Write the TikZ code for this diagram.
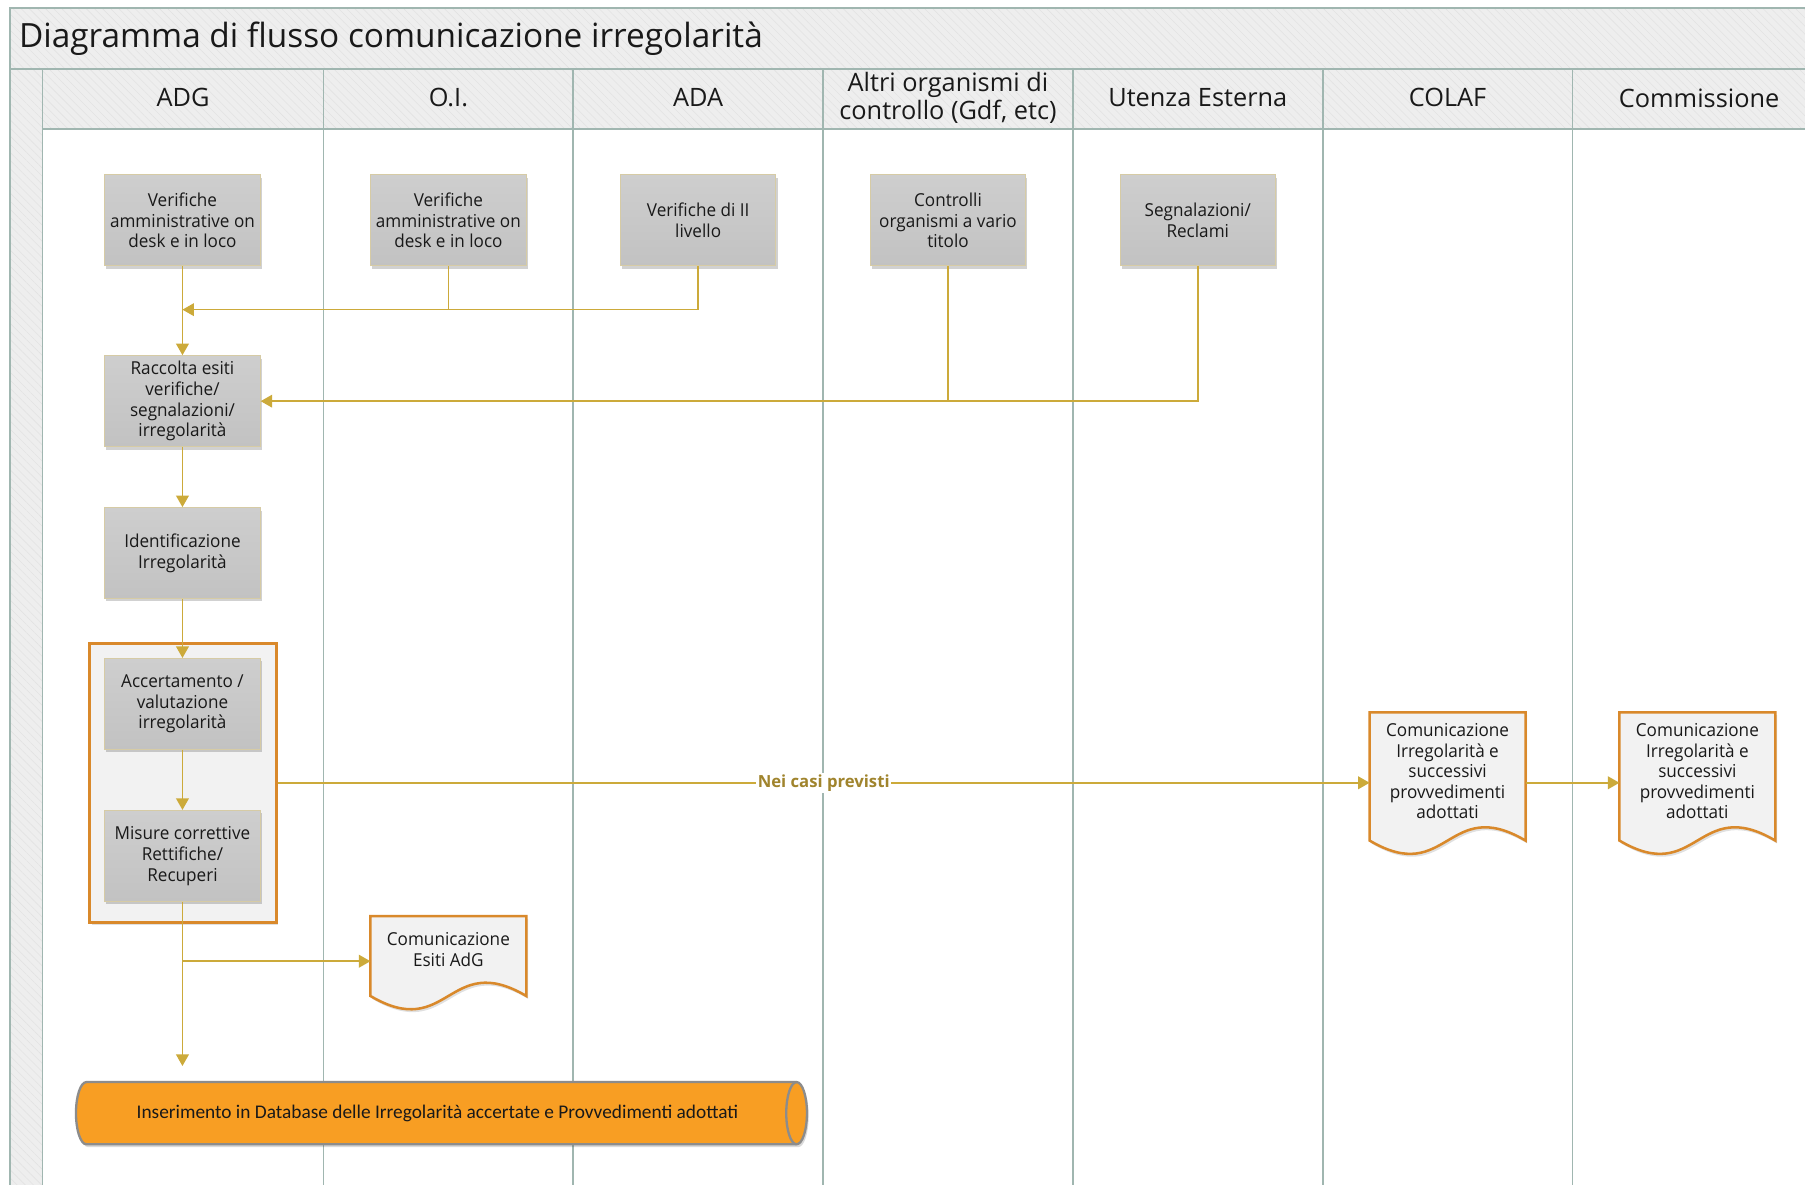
\documentclass[tikz,border=0pt]{standalone}
\usepackage{fontspec}
\setmainfont{Open Sans}
\newfontfamily\boxfont[FakeStretch=0.96]{Open Sans}
\newfontfamily\dbfont{Carlito}
\usetikzlibrary{arrows.meta,shadows,patterns.meta,calc}

% palette
\definecolor{framec}{RGB}{160,182,176}
\definecolor{headfill}{RGB}{238,238,238}
\definecolor{hatchc}{RGB}{226,226,226}
\definecolor{boxtop}{RGB}{206,206,206}
\definecolor{boxbot}{RGB}{194,194,194}
\definecolor{boxline}{RGB}{214,203,165}
\definecolor{flowc}{RGB}{204,170,58}
\definecolor{labelc}{RGB}{160,132,45}
\definecolor{orangec}{RGB}{217,137,43}
\definecolor{docfill}{RGB}{242,242,242}
\definecolor{dbfill}{RGB}{248,158,35}
\definecolor{dbline}{RGB}{140,140,140}

\tikzset{
  band/.style={fill=headfill, draw=framec, line width=1.5pt},
  hatch/.style={pattern={Lines[angle=-45,distance=5pt,line width=0.5pt]}, pattern color=hatchc},
  lanehead/.style={font=\fontsize{22}{26}\selectfont, align=center, text=black!90},
  procbox/.style={draw=boxline, line width=0.9pt, top color=boxtop, bottom color=boxbot,
    minimum width=135pt, minimum height=79pt, align=center, inner sep=2pt,
    font=\boxfont\fontsize{15.5}{18}\selectfont, text=black!90,
    drop shadow={shadow xshift=1.5pt, shadow yshift=-2.5pt, fill=black, opacity=0.18}},
  docbox/.style={minimum width=135pt, inner sep=0pt},
  doctext/.style={align=center, font=\boxfont\fontsize{15.5}{17.7}\selectfont, text=black!90},
  docline/.style={draw=orangec, fill=docfill, line width=2.2pt, line join=miter},
  wire/.style={draw=flowc, line width=1.4pt},
  flow/.style={wire, -{Triangle[width=11pt,length=10pt]}},
}

\begin{document}
\begin{tikzpicture}[x=1pt, y=-1pt]
\clip (0,0) rectangle (1568,1028.6);
\fill[white] (0,0) rectangle (1568,1028.6);

% ---- pool frame: title band, left gutter, lane headers ----
\path[band] (9,7) rectangle (1600,60);
\path[hatch] (9,7) rectangle (1600,60);
\path[band] (9,60) rectangle (37,1100);
\path[hatch] (9,60) rectangle (37,1100);
\path[band] (37,60) rectangle (1600,112);
\path[hatch] (37,60) rectangle (1600,112);
\draw[framec, line width=1.5pt] (9,7) rectangle (1600,60);
\draw[framec, line width=1.5pt] (9,60) rectangle (37,1100);
\draw[framec, line width=1.5pt] (37,112) -- (1600,112);
\foreach \xx in {281,498,715,932,1149,1366}
  \draw[framec, line width=1.5pt] (\xx,60) -- (\xx,1100);

\node[anchor=west, font=\fontsize{29}{34}\selectfont, text=black!90] (title) at (13,34)
  {Diagramma di flusso comunicazione irregolarità};

\node[lanehead] (hADG) at (159,85) {ADG};
\node[lanehead] (hOI)  at (389.5,85) {O.I.};
\node[lanehead] (hADA) at (606.5,85) {ADA};
\node[lanehead, font=\fontsize{22}{25}\selectfont] (hALT) at (823.5,85) {Altri organismi di\\controllo (Gdf, etc)};
\node[lanehead] (hUT)  at (1040.5,85) {Utenza Esterna};
\node[lanehead] (hCOL) at (1257.5,85) {COLAF};
\node[lanehead] (hCOM) at (1476,85) {Commissione};

% ---- group frame around assessment and corrective measures ----
\node[draw=orangec, fill=docfill, line width=2.5pt, minimum width=162pt, minimum height=242pt,
  drop shadow={shadow xshift=1.5pt, shadow yshift=-2.5pt, fill=black, opacity=0.12}]
  (grp) at (159,680) {};

% ---- process steps ----
\node[procbox] (ver1) at (158.5,191.5) {Verifiche\\amministrative on\\desk e in loco};
\node[procbox] (ver2) at (389.5,191.5) {Verifiche\\amministrative on\\desk e in loco};
\node[procbox] (ver3) at (606.5,191.5) {Verifiche di II\\livello};
\node[procbox] (ctrl) at (823.5,191.5) {Controlli\\organismi a vario\\titolo};
\node[procbox] (segn) at (1040.5,191.5) {Segnalazioni/\\Reclami};
\node[procbox] (racc) at (158.5,348.5) {Raccolta esiti\\verifiche/\\segnalazioni/\\irregolarità};
\node[procbox] (iden) at (158.5,480.5) {Identificazione\\Irregolarità};
\node[procbox] (acce) at (158.5,611.5) {Accertamento /\\valutazione\\irregolarità};
\node[procbox] (misu) at (158.5,743.5) {Misure correttive\\Rettifiche/\\Recuperi};

% ---- documents (rectangle with wavy lower edge) ----
\node[docbox, minimum height=69pt] (esiti) at (389.5,830.5) {};
\node[docbox, minimum height=111pt] (colaf) at (1257.5,674.5) {};
\node[docbox, minimum height=111pt] (comm) at (1474.5,674.5) {};
\foreach \d in {esiti,colaf,comm}{
  \path[docline, drop shadow={shadow xshift=1.5pt, shadow yshift=-2.5pt, fill=black, opacity=0.12}]
    (\d.north west) -- (\d.north east) -- (\d.south east)
    .. controls ($(\d.south)+(0,-40)$) and ($(\d.south)+(0,40)$) .. (\d.south west) -- cycle;
}
\node[doctext] (esitiT) at (389.5,825) {Comunicazione\\Esiti AdG};
\node[doctext] (colafT) at (1257.5,670) {Comunicazione\\Irregolarità e\\successivi\\provvedimenti\\adottati};
\node[doctext] (commT) at (1474.5,670) {Comunicazione\\Irregolarità e\\successivi\\provvedimenti\\adottati};

% ---- database (horizontal cylinder) ----
\path[fill=dbfill, draw=dbline, line width=2pt,
  drop shadow={shadow xshift=1.5pt, shadow yshift=-2.5pt, fill=black, opacity=0.15}]
  (75,940) -- (692,940) arc[start angle=90, end angle=-90, x radius=9pt, y radius=27pt]
  -- (75,994) arc[start angle=270, end angle=90, x radius=9pt, y radius=27pt] -- cycle;
\draw[dbline, line width=2pt] (692,940) arc[start angle=90, end angle=270, x radius=9pt, y radius=27pt];
\node[font=\dbfont\fontsize{16.8}{19}\selectfont, text=black!90] (db) at (380,967)
  {Inserimento in Database delle Irregolarità accertate e Provvedimenti adottati};

% ---- connectors ----
\coordinate (j1) at (158.5,269);
\coordinate (br) at (158.5,835);
\coordinate (dbin) at (158.5,926);

\draw[flow] (ver1.south) -- (racc.north);
\draw[flow] (ver3.south) |- (j1);
\draw[wire] (ver2.south) -- (ver2.south |- j1);
\draw[flow] (segn.south) |- (racc.east);
\draw[wire] (ctrl.south) -- (ctrl.south |- racc.east);
\draw[flow] (racc.south) -- (iden.north);
\draw[flow] (iden.south) -- (acce.north);
\draw[flow] (acce.south) -- (misu.north);
\draw[flow] (misu.south) -- (dbin);
\draw[flow] (br) -- (br -| esiti.west);
\draw[flow] (grp.east) -- node[fill=white, inner sep=1.5pt, text=labelc,
    font=\bfseries\fontsize{14.5}{17}\selectfont] (lbl) {Nei casi previsti} (grp.east -| colaf.west);
\draw[flow] (colaf.east |- grp.east) -- (comm.west |- grp.east);
\end{tikzpicture}
\end{document}
